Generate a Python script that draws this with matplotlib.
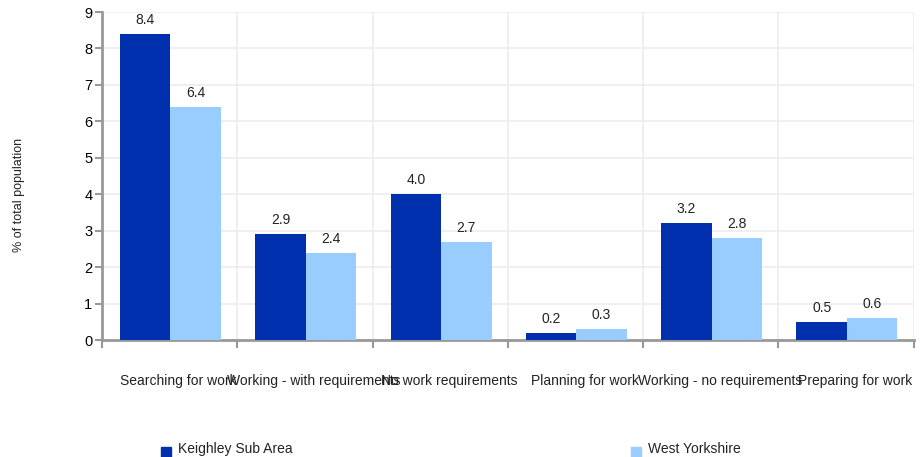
import numpy as np
import matplotlib
matplotlib.use('Agg')
import matplotlib.pyplot as plt
from matplotlib.patches import Rectangle

categories = ['Searching for work', 'Working - with requirements', 'No work requirements',
              'Planning for work', 'Working - no requirements', 'Preparing for work']
keighley = [8.4, 2.9, 4.0, 0.2, 3.2, 0.5]
west_yorks = [6.4, 2.4, 2.7, 0.3, 2.8, 0.6]
series_names = ['Keighley Sub Area', 'West Yorkshire']
colors = ['#0030AE', '#99CCFF']

plt.rcParams['font.family'] = ['Liberation Sans', 'DejaVu Sans']

fig = plt.figure(figsize=(9.23, 4.57), dpi=100)
ax = fig.add_axes([0.1105, 0.256, 0.8795, 0.7177])

n = len(categories)
bar_w = 0.373
offset = 0.133
x = np.arange(n)

for i, vals in enumerate([keighley, west_yorks]):
    lefts = x + offset + i * bar_w
    ax.bar(lefts, vals, width=bar_w, align='edge', color=colors[i], zorder=3)
    for l, v in zip(lefts, vals):
        ax.annotate('{:.1f}'.format(v), (l + bar_w / 2, v), xytext=(0, 5),
                    textcoords='offset points', ha='center', va='bottom',
                    fontsize=10, color='#222222')

ax.set_xlim(0, n)
ax.set_ylim(0, 9)
ax.set_yticks(range(10))
ax.set_xticks(range(n + 1))
ax.set_xticklabels([])
ax.grid(True, color='#EEEEEE', linewidth=1.3, zorder=0)
ax.set_axisbelow(True)

for s in ['top', 'right']:
    ax.spines[s].set_visible(False)
for s in ['left', 'bottom']:
    ax.spines[s].set_color('#999999')
    ax.spines[s].set_linewidth(2)
ax.tick_params(axis='y', length=5, width=1.5, color='#999999', labelsize=10.5, pad=2)
ax.tick_params(axis='x', length=6, width=1.5, color='#999999')

# category labels sit a little right of the group centre
for i, c in enumerate(categories):
    ax.annotate(c, (i + 0.5, 0), xytext=(9, -41), textcoords='offset pixels',
                ha='center', va='center', fontsize=10, color='#222222')

fig.text(0.021, 0.573, '% of total population', rotation=90, ha='center', va='center',
         fontsize=9, color='#222222')

# legend
leg_pos = [(161, 449), (631, 449)]
for (px, py), name, col in zip(leg_pos, series_names, colors):
    fig.patches.append(Rectangle((px / 923, 1 - (py + 8) / 457), 10 / 923, 10 / 457,
                                 transform=fig.transFigure, color=col, figure=fig))
    fig.text((px + 17) / 923, 1 - (py) / 457, name, ha='left', va='center',
             fontsize=10, color='#222222')

fig.savefig('out.png', dpi=100)
